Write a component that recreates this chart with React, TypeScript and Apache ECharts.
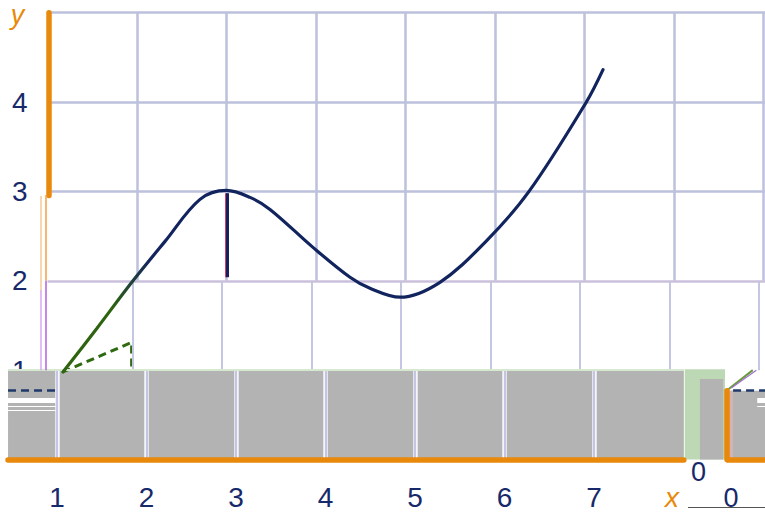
import React, { useEffect, useRef } from "react";
import * as echarts from "echarts";

// ---- data ----
const curveX = [1.173, 1.553, 1.933, 2.313, 2.704, 3.0, 3.263, 3.486, 3.966, 4.38, 4.603, 4.939, 5.385, 5.91, 6.38, 7.017, 7.207];
const curveY = [0.978, 1.469, 1.972, 2.441, 2.911, 3.011, 2.933, 2.799, 2.374, 2.039, 1.916, 1.816, 1.983, 2.453, 3.0, 3.994, 4.363];
const tangentX = [1.17, 1.94, 1.94];
const tangentY = [0.98, 1.31, 0.99];
const dropX = [3, 3];
const dropY = [2.04, 2.98];
const xTickLabels = [1, 2, 3, 4, 5, 6, 7];
const yTickLabels = [1, 2, 3, 4];
const gridXs = [2, 3, 4, 5, 6, 7, 8, 9];
const gridYs = [2, 3, 4, 5];
const bandEdges = [0.559, 1.106, 2.106, 3.106, 4.106, 5.106, 6.106, 7.106, 8.11];

const NAVY = "#17296a";
const ORANGE = "#e8890b";
const GRID = "#bcc1dc";
const FONT = "'Liberation Sans', Arial, sans-serif";

const seg = (x1: number, y1: number, x2: number, y2: number, lineStyle: any) => [
  { coord: [x1, y1], lineStyle },
  { coord: [x2, y2] },
];

export default function App() {
  const ref = useRef<HTMLDivElement>(null);
  useEffect(() => {
    if (!ref.current) return;
    const chart = echarts.init(ref.current, null, { renderer: "svg" });

    const gridLines: any[] = [];
    gridXs.forEach((x) => {
      gridLines.push(seg(x, 2, x, 5, { color: GRID, width: 2.5, type: "solid" }));
      gridLines.push(seg(x - 0.05, 1, x - 0.05, 2, { color: "#c3c7e2", width: 2, type: "solid" }));
    });
    gridYs.forEach((y) => {
      gridLines.push(seg(1, y, 10, y, { color: y === 2 ? "#cbc0dc" : GRID, width: 2.5, type: "solid" }));
    });

    const bandCells: any[] = [];
    for (let i = 0; i < bandEdges.length - 1; i++) {
      bandCells.push([{ coord: [bandEdges[i], 0] }, { coord: [bandEdges[i + 1], 1] }]);
    }
    bandCells.push([{ coord: [8.12, 0], itemStyle: { color: "#bcd8b4" } }, { coord: [8.57, 1.01] }]);
    bandCells.push([{ coord: [8.29, 0], itemStyle: { color: "#b3b3b3" } }, { coord: [8.55, 0.9] }]);
    bandCells.push([{ coord: [8.6, 0], itemStyle: { color: "#b3b3b3" } }, { coord: [10, 0.77] }]);
    bandCells.push([{ coord: [8.6, 0], itemStyle: { color: "#d2b4b6" } }, { coord: [8.66, 0.77] }]);

    const bandLines: any[] = [];
    bandEdges.slice(1, -1).forEach((x) => {
      bandLines.push(seg(x, 0, x, 1, { color: "#f4f5fb", width: 4.5, type: "solid" }));
      bandLines.push(seg(x, 0, x, 1, { color: "#c2c6e2", width: 2, type: "solid" }));
    });
    bandLines.push(seg(0.559, 1.005, 8.11, 1.005, { color: "#d6e8cf", width: 2, type: "solid" }));
    bandLines.push(seg(0.559, 0.777, 1.09, 0.777, { color: "#1e3a6a", width: 2.5, type: [8, 5] }));
    bandLines.push(seg(0.559, 0.665, 1.09, 0.665, { color: "#ffffff", width: 5, type: "solid" }));
    bandLines.push(seg(0.559, 0.592, 1.09, 0.592, { color: "#ffffff", width: 1.2, type: "solid" }));
    bandLines.push(seg(0.559, 0.553, 1.09, 0.553, { color: "#ffffff", width: 1.2, type: "solid" }));
    bandLines.push(seg(8.66, 0.777, 10, 0.777, { color: "#1e3a6a", width: 2.5, type: [8, 5] }));
    bandLines.push(seg(8.93, 0.665, 10, 0.665, { color: "#ffffff", width: 5, type: "solid" }));
    bandLines.push(seg(8.93, 0.6, 10, 0.6, { color: "#ffffff", width: 1.2, type: "solid" }));
    bandLines.push(seg(8.6, 0.78, 8.88, 1.0, { color: "#6a9a3a", width: 2, type: "solid" }));
    bandLines.push(seg(8.64, 0.8, 8.92, 1.0, { color: "#a070d0", width: 1.2, type: "solid" }));

    const axisLines: any[] = [
      seg(0.559, 0, 8.11, 0, { color: ORANGE, width: 5.5, type: "solid", cap: "round" }),
      seg(8.585, 0.77, 8.585, 0, { color: ORANGE, width: 5.5, type: "solid", cap: "round" }),
      seg(8.585, 0, 10, 0, { color: ORANGE, width: 5.5, type: "solid" }),
      seg(1.011, 2.955, 1.011, 5, { color: ORANGE, width: 5.5, type: "solid", cap: "round" }),
      seg(0.98, 2.0, 0.98, 2.96, { color: "#f0a040", width: 1.5, type: "solid" }),
      seg(0.98, 1.0, 0.98, 2.0, { color: "#b060e0", width: 1.5, type: "solid" }),
      seg(0.924, 1.9, 0.924, 2.95, { color: "#f5c999", width: 1.5, type: "solid" }),
      seg(0.924, 1.0, 0.924, 1.9, { color: "#d6a8ee", width: 1.5, type: "solid" }),
    ];

    const dropLines: any[] = [
      seg(dropX[0] - 0.012, dropY[0], dropX[1] - 0.012, dropY[1], { color: "#d0103c", width: 1.5, type: "solid" }),
      seg(dropX[0] + 0.006, dropY[0], dropX[1] + 0.006, dropY[1], { color: "#1a1f5c", width: 3, type: "solid" }),
    ];

    const option: any = {
      animation: false,
      backgroundColor: "#ffffff",
      grid: { left: -42, right: -88, top: 12.7, bottom: 55.5, containLabel: false, outerBoundsMode: "none" },
      xAxis: {
        type: "value",
        min: 0,
        max: 10,
        interval: 1,
        axisLine: { show: false },
        axisTick: { show: false },
        splitLine: { show: false },
        axisLabel: {
          margin: 23.5,
          color: NAVY,
          fontSize: 28,
          fontFamily: FONT,
          padding: [0, 0, 0, 19],
          formatter: (v: number) => (xTickLabels.includes(v) ? String(v) : ""),
        },
      },
      yAxis: {
        type: "value",
        min: 0,
        max: 5,
        interval: 1,
        offset: -89.5,
        axisLine: { show: false },
        axisTick: { show: false },
        splitLine: { show: false },
        axisLabel: {
          margin: 20,
          color: NAVY,
          fontSize: 28,
          fontFamily: FONT,
          padding: [4, 0, 0, 0],
          formatter: (v: number) => (yTickLabels.includes(v) ? String(v) : ""),
        },
      },
      series: [
        {
          type: "line",
          data: [],
          z: 1,
          silent: true,
          markLine: { silent: true, symbol: "none", label: { show: false }, animation: false, data: gridLines },
        },
        {
          type: "line",
          data: [],
          z: 2,
          silent: true,
          markArea: { silent: true, itemStyle: { color: "#b3b3b3" }, label: { show: false }, data: bandCells },
        },
        {
          type: "line",
          data: [],
          z: 3,
          silent: true,
          markLine: { silent: true, symbol: "none", label: { show: false }, data: bandLines },
        },
        {
          type: "line",
          data: tangentX.map((x, i) => [x, tangentY[i]]),
          z: 4,
          symbol: "none",
          lineStyle: { color: "#2f6a10", width: 3, type: [8, 5] },
        },
        {
          type: "line",
          data: [],
          z: 4,
          silent: true,
          markLine: { silent: true, symbol: "none", label: { show: false }, data: dropLines },
        },
        {
          type: "line",
          data: curveX.map((x, i) => [x, curveY[i]]),
          z: 5,
          smooth: 0.35,
          symbol: "none",
          lineStyle: {
            width: 3.2,
            cap: "round",
            color: new echarts.graphic.LinearGradient(0, 0, 1, 0, [
              { offset: 0, color: "#2e6410" },
              { offset: 0.09, color: "#2e6410" },
              { offset: 0.16, color: "#12245e" },
              { offset: 1, color: "#12245e" },
            ]),
          },
        },
        {
          type: "line",
          data: [],
          z: 6,
          silent: true,
          markLine: { silent: true, symbol: "none", label: { show: false }, data: axisLines },
        },
      ],
      graphic: [
        { type: "text", x: 17.5, y: 1, z: 10, style: { text: "y", font: `italic 27px ${FONT}`, fill: ORANGE, align: "center", verticalAlign: "top" } },
        { type: "text", x: 672, y: 497, z: 10, style: { text: "x", font: `italic 28px ${FONT}`, fill: ORANGE, align: "center", verticalAlign: "middle" } },
        { type: "text", x: 698.5, y: 472, z: 10, style: { text: "0", font: `27px ${FONT}`, fill: NAVY, align: "center", verticalAlign: "middle" } },
        { type: "text", x: 731, y: 498, z: 10, style: { text: "0", font: `27px ${FONT}`, fill: NAVY, align: "center", verticalAlign: "middle" } },
        { type: "line", z: 10, shape: { x1: 688, y1: 507.5, x2: 765, y2: 507.5 }, style: { stroke: "#555555", lineWidth: 1 } },
      ],
    };
    chart.setOption(option);
    return () => chart.dispose();
  }, []);
  return <div ref={ref} style={{ position: "fixed", left: 0, top: 0, width: 765, height: 515 }} />;
}
